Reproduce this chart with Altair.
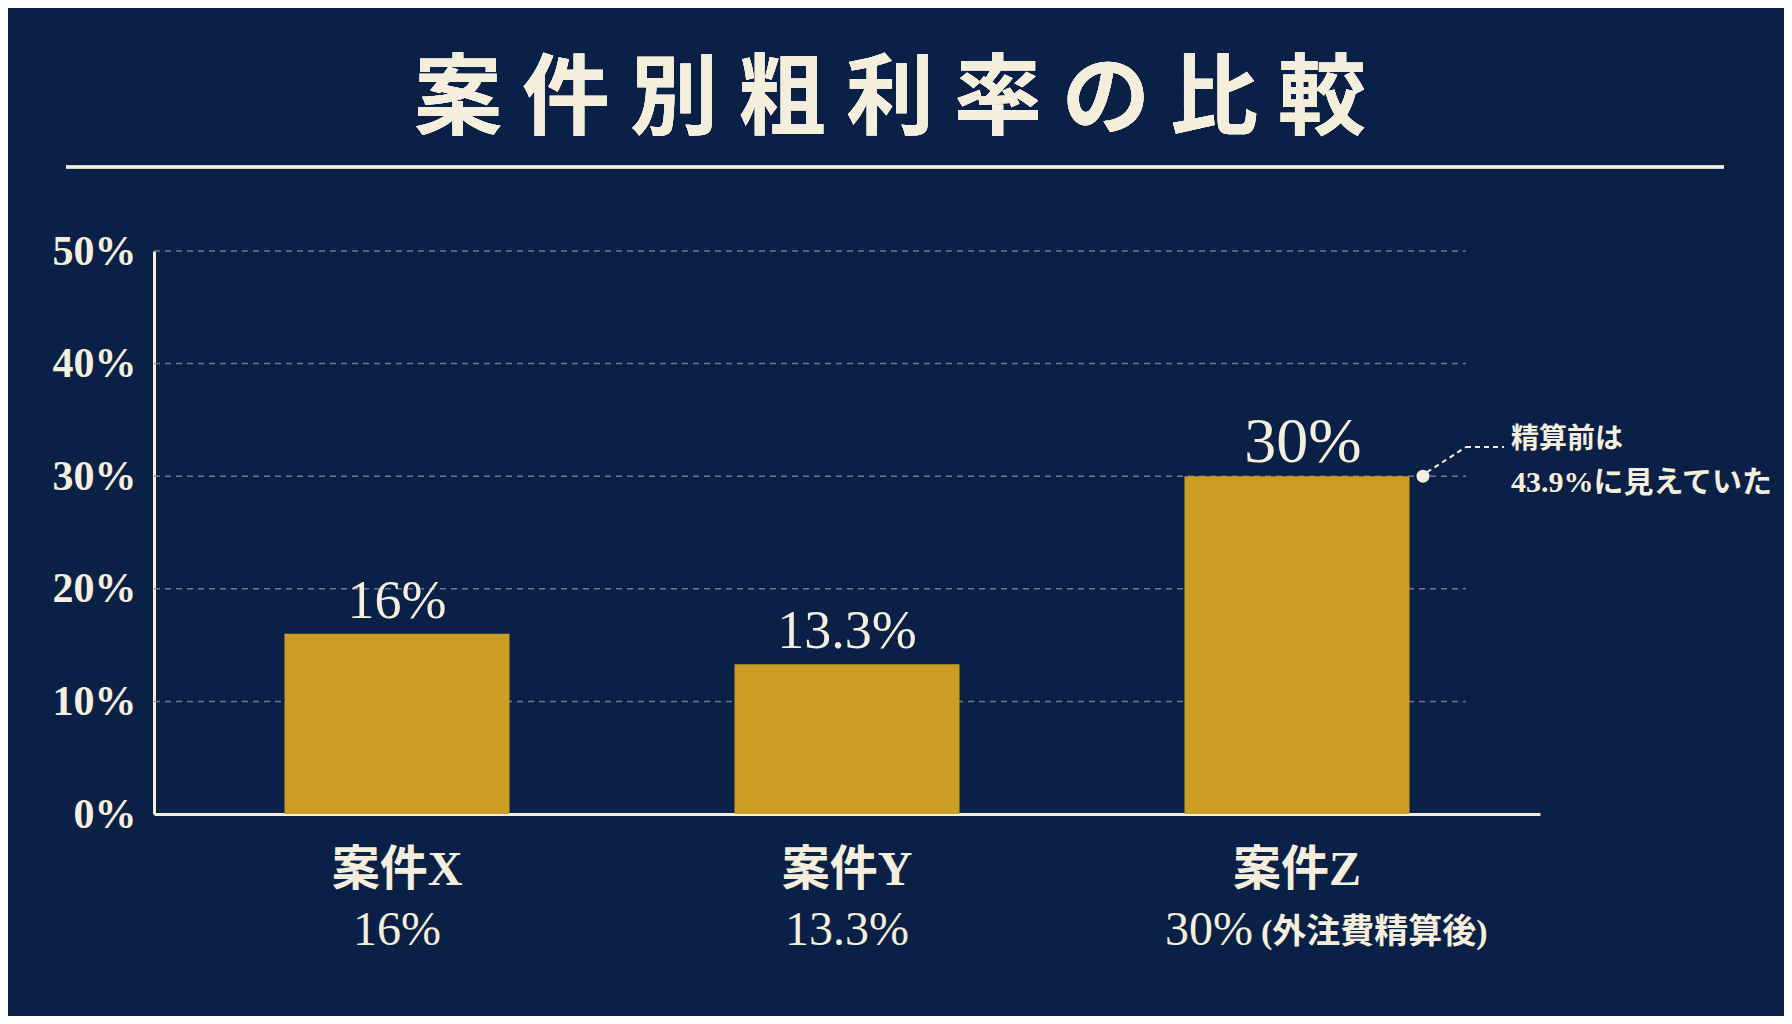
import altair as alt
import pandas as pd

# chart values
cases = ["案件X", "案件Y", "案件Z"]
margins = [16, 13.3, 30]
value_labels = ["16%", "13.3%", "30%"]
notes = ["", "", "(外注費精算後)"]
y_ticks = [0, 10, 20, 30, 40, 50]
grid_ticks = [10, 20, 30, 40, 50]
title_text = "案 件 別 粗 利 率 の 比 較"
note_lines = ["精算前は", "43.9%に見えていた"]
note_anchor = [30]

BG = "#0B2046"
BAR = "#CB9D22"
CREAM = "#F4EEDC"
GRID = "#7D8AA3"
SERIF = "Liberation Serif, Noto Sans CJK JP"
CJK = "Noto Sans CJK JP"

W, H = 1386, 563

df = pd.DataFrame({"case": cases, "margin": margins,
                   "label": value_labels, "note": notes})
grid_df = pd.DataFrame({"tick": grid_ticks})
anchor_df = pd.DataFrame({"v": note_anchor})

y_scale = alt.Scale(domain=[0, 50], nice=False)
x_scale = alt.Scale(domain=cases, paddingInner=0.5, paddingOuter=0.29)

y_axis = alt.Axis(
    values=y_ticks, labelExpr="datum.value + '%'", title=None,
    labelFont=SERIF, labelFontWeight="bold", labelFontSize=42,
    labelColor=CREAM, labelPadding=18, ticks=False, grid=False,
    domainColor=CREAM, domainWidth=3,
)
x_axis = alt.Axis(labels=False, ticks=False, title=None, grid=False,
                  domainColor=CREAM, domainWidth=3)

x_enc = alt.X("case:N", scale=x_scale, axis=x_axis, sort=cases)
y_enc = alt.Y("margin:Q", scale=y_scale, axis=y_axis)

base = alt.Chart(df)
is_note = "datum.note != ''"
no_note = "datum.note == ''"

grid = alt.Chart(grid_df).mark_rule(
    color=GRID, strokeDash=[6, 5], strokeWidth=1.5, opacity=0.85
).encode(
    y=alt.Y("tick:Q", scale=y_scale, axis=y_axis),
    x=alt.value(0), x2=alt.value(1312),
)

bars = base.mark_bar(color=BAR).encode(x=x_enc, y=y_enc)

bar_text = base.transform_filter(no_note).mark_text(
    font=SERIF, fontSize=54, color=CREAM, baseline="alphabetic", dy=-16
).encode(x=x_enc, y=y_enc, text="label:N")

bar_text_z = base.transform_filter(is_note).mark_text(
    font=SERIF, fontSize=64, color=CREAM, baseline="alphabetic", dy=-14, dx=6
).encode(x=x_enc, y=y_enc, text="label:N")

case_text = base.mark_text(
    font=SERIF, fontSize=48, fontWeight="bold", color=CREAM, baseline="middle"
).encode(x=x_enc, y=alt.value(57 + H), text="case:N")

value_text = base.transform_filter(no_note).mark_text(
    font=SERIF, fontSize=48, color=CREAM, baseline="middle"
).encode(x=x_enc, y=alt.value(117 + H), text="label:N")

value_text_z = base.transform_filter(is_note).mark_text(
    font=SERIF, fontSize=48, color=CREAM, baseline="middle",
    align="right", dx=-44
).encode(x=x_enc, y=alt.value(117 + H), text="label:N")

note_text_z = base.transform_filter(is_note).mark_text(
    font=SERIF, fontSize=34, fontWeight="bold", color=CREAM,
    baseline="middle", align="left", dx=-36
).encode(x=x_enc, y=alt.value(119 + H), text="note:N")

title = base.mark_text(
    font=CJK, fontSize=88, fontWeight="bold", color=CREAM, baseline="middle"
).encode(x=alt.value(736), y=alt.value(-150), text=alt.value(title_text))

title_rule = base.mark_rule(color=CREAM, strokeWidth=3).encode(
    x=alt.value(-88), x2=alt.value(1570), y=alt.value(-84)
)

ann = alt.Chart(anchor_df)
ann_y = alt.Y("v:Q", scale=y_scale, axis=y_axis)
dot = ann.mark_circle(color=CREAM, size=170, opacity=1).encode(
    x=alt.value(1269), y=ann_y
)
leader1 = ann.mark_rule(color=CREAM, strokeWidth=2, strokeDash=[5, 4]).encode(
    x=alt.value(1273), x2=alt.value(1312),
    y=alt.value(H - 30 * H / 50 - 4), y2=alt.value(196),
)
leader2 = ann.mark_rule(color=CREAM, strokeWidth=2, strokeDash=[5, 4]).encode(
    x=alt.value(1312), x2=alt.value(1350), y=alt.value(196)
)
note1 = ann.mark_text(
    font=CJK, fontSize=28, fontWeight="bold", color=CREAM,
    align="left", baseline="middle", dy=-36
).encode(x=alt.value(1357), y=ann_y, text=alt.value(note_lines[0]))
note2 = ann.mark_text(
    font=SERIF, fontSize=30, fontWeight="bold", color=CREAM,
    align="left", baseline="middle", dy=7
).encode(x=alt.value(1357), y=ann_y, text=alt.value(note_lines[1]))

chart = alt.layer(
    grid, bars, bar_text, bar_text_z, case_text, value_text, value_text_z,
    note_text_z, title, title_rule, dot, leader1, leader2, note1, note2,
).properties(
    width=W, height=H,
    autosize=alt.AutoSizeParams(type="none"),
    padding={"left": 146, "top": 243, "right": 244, "bottom": 202},
    background=BG,
).configure_view(stroke=None)

chart.save("out.html", embed_options={"renderer": "svg", "actions": False})
